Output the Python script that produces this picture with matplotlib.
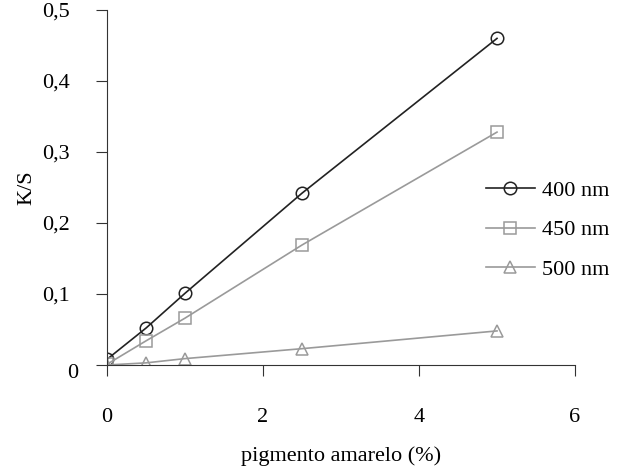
import matplotlib
matplotlib.use("Agg")
import matplotlib.pyplot as plt
import matplotlib.transforms as mtransforms
from matplotlib.ticker import FuncFormatter

# pigment concentration (%) and K/S values
pigmento = [0, 0.5, 1, 2.5, 5]
ks_400 = [0.008, 0.052, 0.101, 0.242, 0.460]
ks_450 = [0.001, 0.034, 0.066, 0.169, 0.328]
ks_500 = [0.000, 0.003, 0.009, 0.023, 0.048]

series = [
    ("400 nm", ks_400, "#222222", "o"),
    ("450 nm", ks_450, "#9a9a9a", "s"),
    ("500 nm", ks_500, "#9a9a9a", "^"),
]

plt.rcParams['font.family'] = ['Liberation Serif', 'DejaVu Serif']
FS = 16

fig = plt.figure(figsize=(6.19, 4.70), dpi=100)
ax = fig.add_axes([107 / 619, 105 / 470, 468 / 619, 355 / 470])

for label, vals, col, mk in series:
    ax.plot(pigmento, vals, color=col, marker=mk, markersize=9,
            markerfacecolor="none", markeredgecolor=col, markeredgewidth=1.1,
            linewidth=1.2, label=label)

ax.set_xlim(0, 6)
ax.set_ylim(0, 0.5)
ax.set_xticks([0, 2, 4, 6])
ax.set_yticks([0, 0.1, 0.2, 0.3, 0.4, 0.5])
ax.yaxis.set_major_formatter(FuncFormatter(
    lambda v, p: "0" if v == 0 else f"{v:.1f}".replace(".", ",")))

for s in ["top", "right"]:
    ax.spines[s].set_visible(False)
ax.spines["left"].set_color("#333333")
ax.spines["bottom"].set_color("#333333")
ax.tick_params(axis="x", direction="out", length=8, pad=23, labelsize=FS, color="#333333")
ax.tick_params(axis="y", direction="out", length=8, pad=19, labelsize=FS, color="#333333")

# the "0" on the y axis sits a little right and lower in the original
zero_lbl = ax.yaxis.get_major_ticks()[0].label1
zero_lbl.set_transform(zero_lbl.get_transform() +
                       mtransforms.ScaledTranslation(0.09, -0.06, fig.dpi_scale_trans))

ax.set_ylabel("K/S", fontsize=FS, labelpad=4)
ax.set_xlabel("pigmento amarelo (%)", fontsize=FS, labelpad=14)

ax.legend(loc="center left", bbox_to_anchor=(0.767, 0.38), frameon=False,
          fontsize=FS, handlelength=2.2, labelspacing=0.85, handletextpad=0.3)

fig.savefig("out.png", dpi=100)
